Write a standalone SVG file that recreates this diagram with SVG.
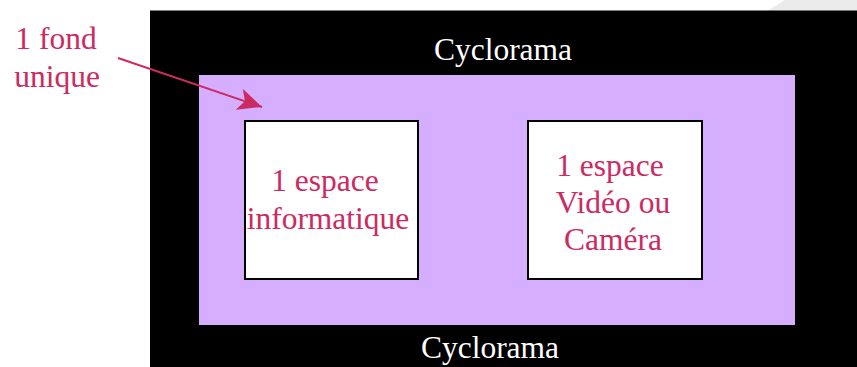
<svg xmlns="http://www.w3.org/2000/svg" width="857" height="367" viewBox="0 0 857 367">
<style>
text{font-family:"Liberation Serif","Times New Roman",serif;font-size:31.5px;text-anchor:middle}
.w{fill:#fff}.r{fill:#cc2a62}
.box{fill:#fff;stroke:#000;stroke-width:2}
</style>
<defs><marker id="a" markerUnits="userSpaceOnUse" markerWidth="26" markerHeight="24" refX="24" refY="11" orient="auto"><path d="M0 0L24 11L0 22L6 11Z" fill="#cc2a62"/></marker></defs>
<rect width="857" height="367" fill="#fff"/>
<polygon points="767,11 785,0 857,0 857,11" fill="#ebebeb"/>
<g id="cyclorama"><rect x="150" y="10.5" width="707" height="356.5" fill="#000"/>
<text class="w" x="503" y="60">Cyclorama</text><text class="w" x="490" y="358">Cyclorama</text></g>
<g id="fond"><rect x="199" y="75" width="596" height="250" fill="#d6aeff"/></g>
<g id="label-fond"><text class="r" x="56" y="49">1 fond</text><text class="r" x="57" y="87">unique</text></g>
<g id="informatique"><rect class="box" x="245" y="121" width="173" height="158"/>
<text class="r" x="325" y="191">1 espace</text><text class="r" x="328" y="229">informatique</text></g>
<g id="video"><rect class="box" x="528" y="121" width="174" height="158"/>
<text class="r" x="610" y="176">1 espace</text><text class="r" x="613" y="213">Vidéo ou</text><text class="r" x="613" y="250">Caméra</text></g>
<g id="connectors"><line x1="118" y1="58" x2="262" y2="107" stroke="#cc2a62" stroke-width="2" marker-end="url(#a)"/></g>
</svg>
